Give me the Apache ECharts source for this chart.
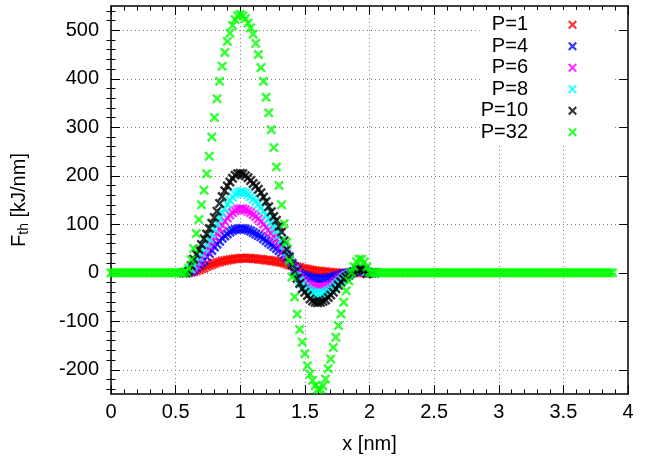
<!DOCTYPE html>
<html>
<head>
<meta charset="utf-8">
<script src="https://cdn.jsdelivr.net/npm/echarts@6/dist/echarts.min.js"></script>
<style>
  html, body { margin: 0; padding: 0; background: #fff; }
  #chart { width: 645px; height: 463px; }
</style>
</head>
<body>
<div id="chart"></div>
<script>
// sampling grid (nm)
const xLeft = [0, 0.02, 0.04, 0.06, 0.08, 0.1, 0.12, 0.14, 0.16, 0.18,
  0.2, 0.22, 0.24, 0.26, 0.28, 0.3, 0.32, 0.34, 0.36, 0.38,
  0.4, 0.42, 0.44, 0.46, 0.48, 0.5, 0.52, 0.54];
const xCore = [0.56, 0.58, 0.6, 0.62, 0.64, 0.66, 0.68, 0.7, 0.72, 0.74,
  0.76, 0.78, 0.8, 0.82, 0.84, 0.86, 0.88, 0.9, 0.92, 0.94,
  0.96, 0.98, 1.0, 1.02, 1.04, 1.06, 1.08, 1.1, 1.12, 1.14,
  1.16, 1.18, 1.2, 1.22, 1.24, 1.26, 1.28, 1.3, 1.32, 1.34,
  1.36, 1.38, 1.4, 1.42, 1.44, 1.46, 1.48, 1.5, 1.52, 1.54,
  1.56, 1.58, 1.6, 1.62, 1.64, 1.66, 1.68, 1.7, 1.72, 1.74,
  1.76, 1.78, 1.8, 1.82, 1.84, 1.86, 1.88, 1.9, 1.92, 1.94,
  1.96, 1.98, 2.0, 2.02, 2.04];
const xRight = [2.06, 2.08, 2.1, 2.12, 2.14, 2.16, 2.18, 2.2, 2.22, 2.24,
  2.26, 2.28, 2.3, 2.32, 2.34, 2.36, 2.38, 2.4, 2.42, 2.44,
  2.46, 2.48, 2.5, 2.52, 2.54, 2.56, 2.58, 2.6, 2.62, 2.64,
  2.66, 2.68, 2.7, 2.72, 2.74, 2.76, 2.78, 2.8, 2.82, 2.84,
  2.86, 2.88, 2.9, 2.92, 2.94, 2.96, 2.98, 3.0, 3.02, 3.04,
  3.06, 3.08, 3.1, 3.12, 3.14, 3.16, 3.18, 3.2, 3.22, 3.24,
  3.26, 3.28, 3.3, 3.32, 3.34, 3.36, 3.38, 3.4, 3.42, 3.44,
  3.46, 3.48, 3.5, 3.52, 3.54, 3.56, 3.58, 3.6, 3.62, 3.64,
  3.66, 3.68, 3.7, 3.72, 3.74, 3.76, 3.78, 3.8, 3.82, 3.84,
  3.86, 3.88];

// F_th values on xCore (kJ/nm)
const p1 = [0, 0, 0, 1, 2, 4, 6, 8, 10, 13,
  15, 17, 19, 21, 22, 24, 25, 26, 27, 28,
  29, 29, 30, 30, 30, 30, 30, 29, 29, 28,
  28, 27, 26, 26, 25, 24, 23, 22, 21, 20,
  18, 16, 15, 13, 12, 11, 9, 8, 7, 6,
  5, 4, 3, 3, 2, 2, 1, 1, 0, 0,
  -1, -1, -1, -1, -1, 0, 0, 1, 1, 1,
  0, 0, 0, 0, 0];
const p4 = [0, 0, 1, 3, 6, 11, 16, 21, 26, 33,
  40, 46, 53, 59, 65, 71, 76, 80, 84, 87,
  89, 90, 91, 91, 90, 88, 86, 83, 80, 77,
  74, 70, 66, 62, 58, 54, 50, 46, 42, 37,
  32, 26, 20, 13, 6, -1, -4, -6, -8, -10,
  -11, -12, -13, -13, -12, -12, -11, -10, -9, -7,
  -5, -4, -2, -1, 0, 1, 2, 3, 3, 3,
  2, 1, 0, 0, 0];
const p6 = [0, 0, 2, 6, 10, 16, 23, 30, 38, 46,
  55, 64, 73, 82, 90, 98, 106, 113, 119, 124,
  128, 131, 132, 132, 130, 127, 124, 120, 116, 111,
  106, 100, 94, 88, 82, 75, 69, 62, 55, 47,
  38, 28, 18, 8, -2, -10, -15, -19, -23, -26,
  -28, -30, -31, -31, -30, -29, -27, -25, -22, -18,
  -14, -10, -7, -4, -2, 0, 2, 4, 5, 5,
  3, 1, 0, 0, 0];
const p8 = [0, 0, 2, 8, 15, 23, 32, 40, 50, 60,
  70, 80, 91, 102, 113, 123, 132, 141, 149, 156,
  162, 165, 167, 167, 165, 161, 157, 152, 147, 141,
  134, 127, 119, 111, 103, 95, 87, 78, 68, 57,
  44, 31, 18, 5, -7, -16, -23, -29, -34, -37,
  -40, -42, -43, -43, -42, -40, -37, -34, -30, -25,
  -20, -15, -10, -6, -3, 0, 3, 5, 7, 7,
  4, 1, 0, 0, 0];
const p10 = [0, 0, 3, 15, 28, 38, 48, 58, 70, 80,
  91, 102, 114, 127, 143, 157, 169, 179, 187, 195,
  201, 204, 205, 204, 200, 196, 190, 184, 179, 172,
  165, 156, 147, 136, 126, 116, 108, 96, 84, 66,
  48, 33, 17, 2, -12, -22, -33, -40, -47, -54,
  -58, -61, -62, -61, -59, -56, -51, -46, -40, -33,
  -26, -19, -13, -9, -5, -1, 2, 5, 7, 8,
  5, -2, 0, 0, 0];
const p32Left = [0, 0, 0, 0, 0, 0, 0, 0, 0, 0,
  0, 0, 0, 0, 0, 0, 0, 0, 0, 0,
  0, 0, 0, 0, 0, 0, 0, 0];
const p32 = [0, 2, 9, 27, 50, 81, 110, 140, 170, 204,
  240, 280, 320, 359, 395, 426, 454, 477, 494, 510,
  522, 530, 533, 530, 524, 515, 505, 492, 473, 450,
  423, 395, 362, 330, 295, 258, 218, 180, 140, 101,
  63, 25, -9, -50, -85, -117, -143, -167, -192, -209,
  -222, -233, -240, -240, -233, -219, -198, -178, -154, -133,
  -109, -85, -61, -37, -17, 0, 13, 23, 28, 28,
  22, 12, 1, 0, 0];
const p32Right = [0, 0, 0, 0, 0, 0, 0, 0, 0, 0,
  0, 0, 0, 0, 0, 0, 0, 0, 0, 0,
  0, 0, 0, 0, 0, 0, 0, 0, 0, 0,
  0, 0, 0, 0, 0, 0, 0, 0, 0, 0,
  0, 0, 0, 0, 0, 0, 0, 0, 0, 0,
  0, 0, 0, 0, 0, 0, 0, 0, 0, 0,
  0, 0, 0, 0, 0, 0, 0, 0, 0, 0,
  0, 0, 0, 0, 0, 0, 0, 0, 0, 0,
  0, 0, 0, 0, 0, 0, 0, 0, 0, 0,
  0, 0];

const seriesNames = ['P=1', 'P=4', 'P=6', 'P=8', 'P=10', 'P=32'];
const seriesColors = ['#ff0000', '#0000ff', '#ff00ff', '#00ffff', '#000000', '#00ff00'];

const yMajor = [-200, -100, 0, 100, 200, 300, 400, 500];
const yMinor = [-240, -220, -180, -160, -140, -120, -80, -60, -40, -20,
  20, 40, 60, 80, 120, 140, 160, 180, 220, 240, 260, 280,
  320, 340, 360, 380, 420, 440, 460, 480, 520, 540];

const FONT = '"Liberation Sans", Arial, sans-serif';
const CROSS = 'path://M0,1.7L1.7,0L5,3.3L8.3,0L10,1.7L6.7,5L10,8.3L8.3,10L5,6.7L1.7,10L0,8.3L3.3,5Z';

const pair = (xs, ys) => xs.map((x, i) => [x, ys[i]]);

const allValues = [p1, p4, p6, p8, p10];
const series = allValues.map((vals, i) => ({
  name: seriesNames[i],
  type: 'scatter',
  symbol: CROSS,
  symbolSize: 10,
  itemStyle: { color: seriesColors[i] },
  data: pair(xCore, vals)
}));
series.push({
  name: seriesNames[5],
  type: 'scatter',
  symbol: CROSS,
  symbolSize: 10,
  itemStyle: { color: seriesColors[5] },
  data: pair(xLeft.concat(xCore, xRight), p32Left.concat(p32, p32Right))
});

const gridLine = { show: true, lineStyle: { color: '#808080', type: [1, 3], width: 1 } };
const frame = { show: true, onZero: false, lineStyle: { color: '#000', width: 1.5 } };

const chart = echarts.init(document.getElementById('chart'));
chart.setOption({
  animation: false,
  backgroundColor: '#fff',
  grid: { left: 111, right: 17, top: 6, bottom: 69 },
  legend: {
    orient: 'vertical',
    right: 33,
    top: 10,
    align: 'right',
    padding: [4, 35, 2, 1],
    backgroundColor: '#fff',
    itemWidth: 9,
    itemHeight: 9,
    itemGap: 0,
    textStyle: { fontFamily: FONT, fontSize: 20, color: '#000', lineHeight: 21.5, padding: [0, 35, 0, 0] },
    data: seriesNames
  },
  xAxis: [{
    type: 'value', position: 'bottom', min: 0, max: 4, interval: 0.5,
    name: 'x [nm]', nameLocation: 'middle', nameGap: 40,
    nameTextStyle: { fontFamily: FONT, fontSize: 20, color: '#000' },
    axisLine: frame,
    axisTick: { inside: true, length: 9, lineStyle: { color: '#000' } },
    minorTick: { show: true, splitNumber: 5, length: 4.5, lineStyle: { color: '#000' } },
    axisLabel: { fontFamily: FONT, fontSize: 20, color: '#000', margin: 8 },
    splitLine: gridLine
  }, {
    type: 'value', position: 'top', min: 0, max: 4, interval: 0.5,
    axisLine: frame,
    axisTick: { inside: true, length: 9, lineStyle: { color: '#000' } },
    minorTick: { show: true, splitNumber: 5, length: 4.5, lineStyle: { color: '#000' } },
    axisLabel: { show: false },
    splitLine: { show: false }
  }],
  yAxis: [{
    type: 'value', position: 'left', min: -250, max: 550,
    name: '{f|F}{s|th}{f| [kJ/nm]}', nameLocation: 'middle', nameGap: 80, nameRotate: 90,
    nameTextStyle: {
      color: '#000',
      rich: {
        f: { fontFamily: FONT, fontSize: 20, color: '#000' },
        s: { fontFamily: FONT, fontSize: 14, color: '#000', verticalAlign: 'bottom', padding: [9, 0, 0, 0] }
      }
    },
    axisLine: frame,
    axisTick: { inside: true, length: 9, customValues: yMajor, lineStyle: { color: '#000' } },
    axisLabel: { fontFamily: FONT, fontSize: 20, color: '#000', margin: 12, customValues: yMajor },
    splitLine: gridLine
  }, {
    type: 'value', position: 'left', min: -250, max: 550,
    axisLine: { show: false },
    axisTick: { inside: true, length: 4.5, customValues: yMinor, lineStyle: { color: '#000' } },
    axisLabel: { show: false },
    splitLine: { show: false }
  }, {
    type: 'value', position: 'right', min: -250, max: 550,
    axisLine: frame,
    axisTick: { inside: true, length: 9, customValues: yMajor, lineStyle: { color: '#000' } },
    axisLabel: { show: false },
    splitLine: { show: false }
  }, {
    type: 'value', position: 'right', min: -250, max: 550,
    axisLine: { show: false },
    axisTick: { inside: true, length: 4.5, customValues: yMinor, lineStyle: { color: '#000' } },
    axisLabel: { show: false },
    splitLine: { show: false }
  }],
  series: series
});
</script>
</body>
</html>
